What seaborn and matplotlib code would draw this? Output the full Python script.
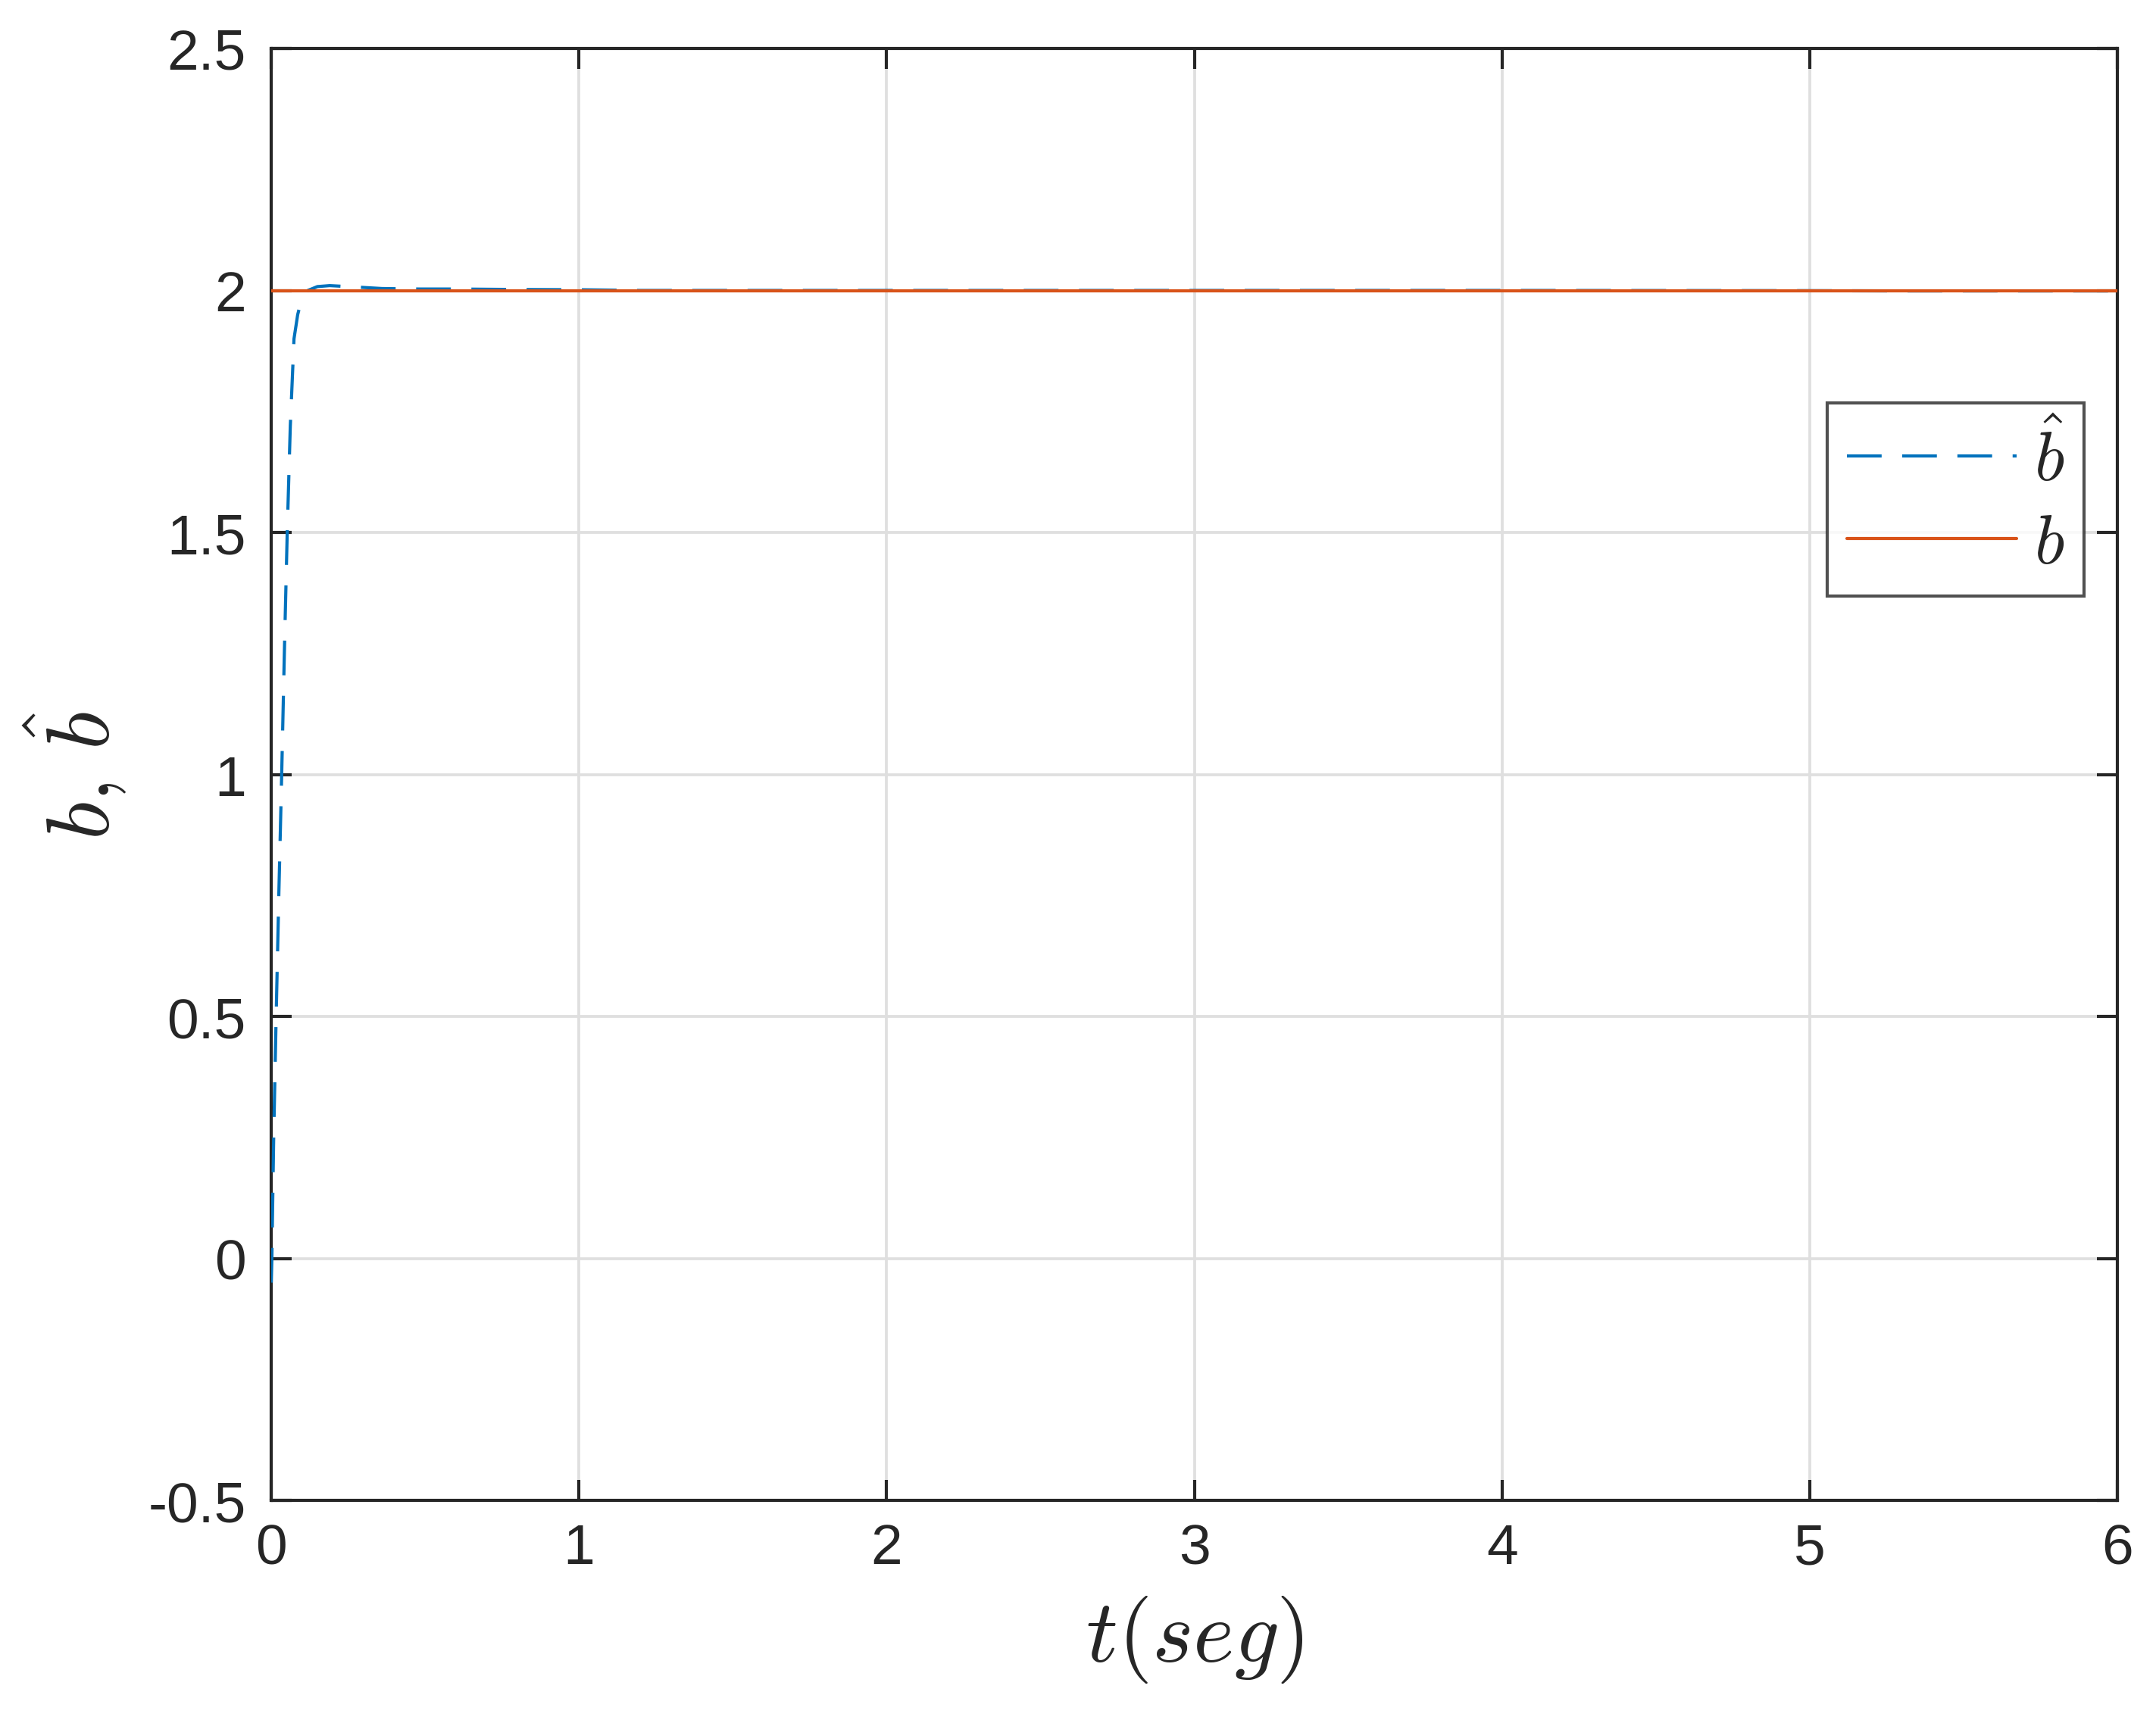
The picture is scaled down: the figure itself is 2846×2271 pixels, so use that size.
import numpy as np
import pandas as pd
import matplotlib
matplotlib.use("Agg")
import matplotlib.pyplot as plt
import seaborn as sns

# data
t_hat = [0.0, 0.002, 0.008, 0.016, 0.025, 0.034, 0.043, 0.052, 0.062, 0.074, 0.086, 0.1, 0.119,
         0.15, 0.19, 0.25, 0.36, 0.48, 0.6, 0.8, 1.0, 1.2, 2.0, 3.0, 4.0, 5.0, 5.3, 6.0]
b_hat = [-0.05, 0.0, 0.25, 0.5, 0.76, 1.0, 1.26, 1.5, 1.72, 1.9, 1.95, 1.985, 2.0,
         2.008, 2.01, 2.008, 2.004, 2.003, 2.003, 2.002, 2.0015, 2.0, 2.0, 2.0, 2.0, 1.9995, 1.999, 1.999]
t_b = [0.0, 6.0]
b_true = [2.0, 2.0]

xticks = [0, 1, 2, 3, 4, 5, 6]
yticks = [-0.5, 0, 0.5, 1, 1.5, 2, 2.5]
ytick_labels = ["-0.5", "0", "0.5", "1", "1.5", "2", "2.5"]

sns.set_theme(style="white")
plt.rcParams["font.family"] = ["Liberation Sans", "DejaVu Sans"]
plt.rcParams["mathtext.fontset"] = "cm"

fig = plt.figure(figsize=(9.4867, 7.5733), dpi=300)
ax = fig.add_axes([0.1258, 0.1276, 0.8563, 0.8438])

df_hat = pd.DataFrame({"t": t_hat, "v": b_hat})
df_b = pd.DataFrame({"t": t_b, "v": b_true})

sns.lineplot(data=df_hat, x="t", y="v", ax=ax, color="#0072BD", lw=1.0,
             linestyle=(0, (11, 6.5)), label=r"$\hat{b}$", zorder=3)
sns.lineplot(data=df_b, x="t", y="v", ax=ax, color="#D95319", lw=1.0,
             label=r"$b$", zorder=4)

ax.set_xlim(0, 6)
ax.set_ylim(-0.5, 2.5)
ax.set_xticks(xticks)
ax.set_xticklabels([str(v) for v in xticks])
ax.set_yticks(yticks)
ax.set_yticklabels(ytick_labels)

ax.grid(True, color="#dfdfdf", lw=0.9)
ax.set_axisbelow(True)
for s in ax.spines.values():
    s.set_color("#262626")
    s.set_linewidth(1.0)
ax.tick_params(axis="both", which="both", direction="in", length=6.4, width=1.0,
               color="#262626", labelcolor="#262626", labelsize=18,
               top=True, right=True, bottom=True, left=True)
ax.tick_params(axis="x", pad=7)
ax.tick_params(axis="y", pad=8)

ax.set_xlabel(r"$t(seg)$", fontsize=28, color="#262626", labelpad=6)
ax.set_ylabel(r"$b,\,\hat{b}$", fontsize=28, color="#262626", labelpad=6)

leg = ax.legend(loc="upper right", bbox_to_anchor=(0.982, 0.7557), fontsize=22,
                frameon=True, fancybox=False, edgecolor="#262626",
                handlelength=2.45, handletextpad=0.25, borderpad=0.28,
                labelspacing=0.25, borderaxespad=0)
leg.get_frame().set_linewidth(1.0)

fig.savefig("out.png", dpi=300, facecolor="white")
